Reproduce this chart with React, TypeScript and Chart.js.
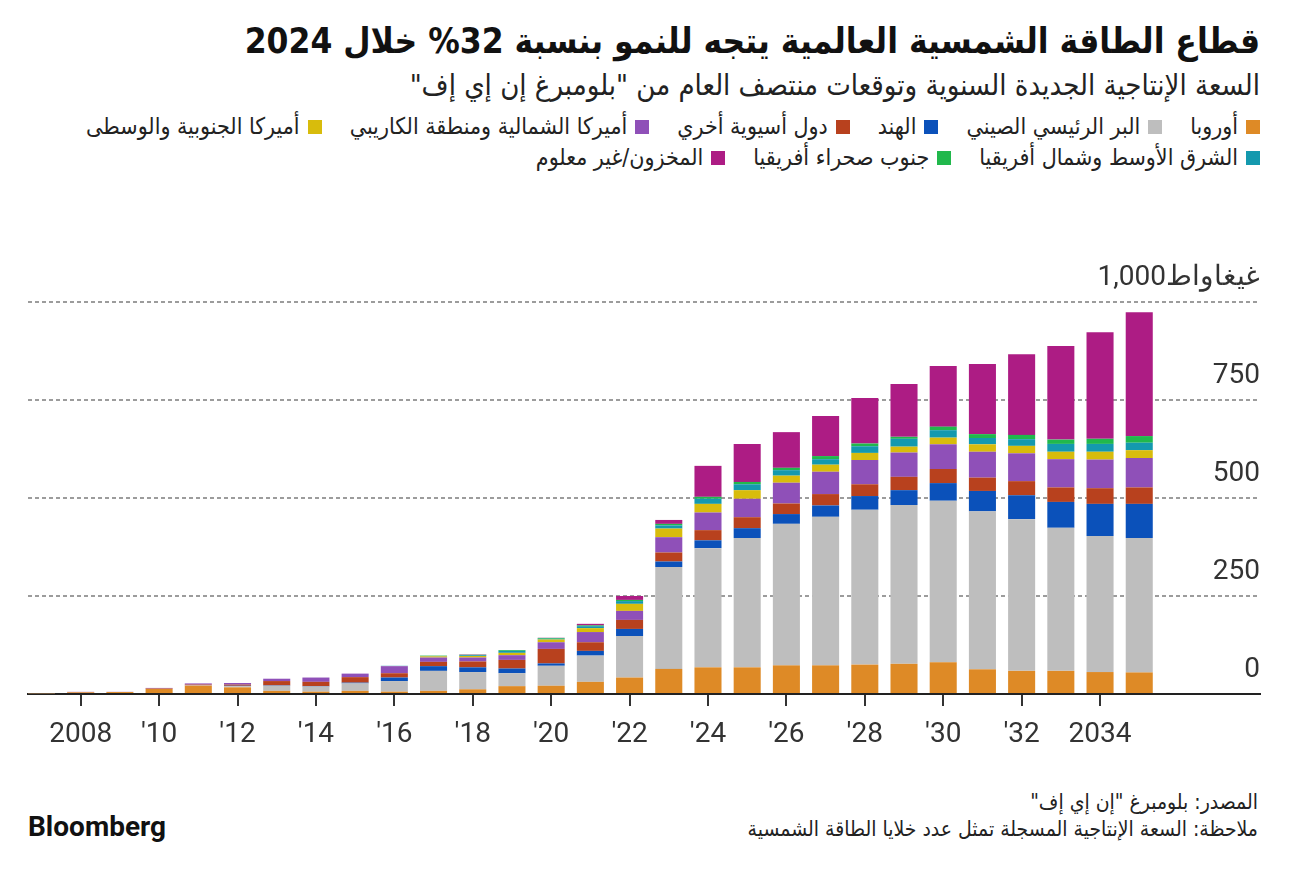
import React, { useEffect, useRef } from "react";
import { Chart, registerables } from "chart.js";

Chart.register(...registerables);

const years = [2007, 2008, 2009, 2010, 2011, 2012, 2013, 2014, 2015, 2016, 2017, 2018, 2019, 2020, 2021, 2022, 2023, 2024, 2025, 2026, 2027, 2028, 2029, 2030, 2031, 2032, 2033, 2034, 2035];

const europe = [1.5, 4, 5, 13, 21, 17, 8, 6, 8, 6, 8, 12, 20, 21, 31, 42, 64, 68, 68, 73, 73, 75, 77, 81, 63, 59, 59, 56, 55];
const china = [0, 0, 0, 0, 1, 3, 13, 13, 19, 27, 51, 44, 33, 51, 67, 106, 260, 304, 330, 361, 379, 395, 405, 412, 403, 387, 365, 347, 343];
const india = [0.8, 0, 0, 0, 0, 1, 1, 1, 2, 9, 12, 12, 12, 6, 12, 18, 14, 20, 25, 25, 29, 35, 38, 45, 52, 61, 66, 82, 87];
const otherAsia = [0, 1, 0, 1, 2, 3, 11, 11, 14, 11, 11, 15, 22, 37, 22, 23, 23, 26, 28, 27, 29, 30, 34, 36, 34, 36, 37, 40, 42];
const northAmerica = [0, 0.5, 0.5, 1.5, 3, 4, 6, 11, 9, 18, 11, 10, 12, 17, 26, 23, 39, 45, 47, 53, 57, 62, 62, 63, 66, 71, 72, 73, 75];
const southAmerica = [0, 0, 0, 0, 0, 0, 0, 0, 0, 0.5, 3, 4, 6, 7, 10, 18, 22, 22, 22, 18, 18, 18, 15, 17, 19, 19, 19, 20, 20];
const mena = [0, 0, 0, 0, 0, 0, 0, 0, 0, 0.5, 1, 2, 5, 2, 5, 7, 8, 13, 15, 14, 14, 17, 20, 19, 16, 17, 20, 20, 19];
const subSaharan = [0, 0, 0, 0, 0, 0, 0, 0, 0, 0, 1, 1, 2, 2, 2, 3, 4, 5, 6, 6, 8, 7, 5, 9, 10, 11, 11, 13, 17];
const stockpile = [0, 0, 0, 0, 0, 0, 0, 0, 0, 0, 0, 1, 0, 0.5, 4, 10, 10, 79, 97, 91, 102, 116, 135, 155, 179, 206, 239, 272, 316];

const seriesNames = [
  "أوروبا",
  "البر الرئيسي الصيني",
  "الهند",
  "دول أسيوية أخري",
  "أميركا الشمالية ومنطقة الكاريبي",
  "أميركا الجنوبية والوسطى",
  "الشرق الأوسط وشمال أفريقيا",
  "جنوب صحراء أفريقيا",
  "المخزون/غير معلوم",
];
const seriesColors = ["#DE8A26", "#BEBEBE", "#0B51BA", "#B8411E", "#8F50B8", "#D8BC0C", "#1499AE", "#21B84C", "#AD1C84"];

const xTickYears = [2008, 2010, 2012, 2014, 2016, 2018, 2020, 2022, 2024, 2026, 2028, 2030, 2032, 2034];
const yTickValues = [0, 250, 500, 750, 1000];
const yUnit = "غيغاواط";

const title = "قطاع الطاقة الشمسية العالمية يتجه للنمو بنسبة 32% خلال 2024";
const subtitle = "السعة الإنتاجية الجديدة السنوية وتوقعات منتصف العام من \"بلومبرغ إن إي إف\"";
const sourceText = "المصدر: بلومبرغ \"إن إي إف\"";
const noteText = "ملاحظة: السعة الإنتاجية المسجلة تمثل عدد خلايا الطاقة الشمسية";

const arabicFont = '"DejaVu Sans Condensed", "DejaVu Sans", sans-serif';
const numFont = 'Roboto, "Liberation Sans", sans-serif';

export default function App() {
  const ref = useRef<HTMLCanvasElement>(null);

  useEffect(() => {
    const canvas = ref.current;
    if (!canvas) return;
    const series = [europe, china, india, otherAsia, northAmerica, southAmerica, mena, subSaharan, stockpile];
    const chart = new Chart(canvas, {
      type: "bar",
      data: {
        datasets: series.map((s, i) => ({
          label: seriesNames[i],
          data: s.map((v, j) => ({ x: years[j], y: v })),
          backgroundColor: seriesColors[i],
          borderWidth: 0,
          categoryPercentage: 0.69,
          barPercentage: 1,
        })),
      },
      options: {
        animation: false,
        responsive: false,
        maintainAspectRatio: false,
        layout: { padding: { left: 28, right: 36, top: 62, bottom: 26 } },
        plugins: { legend: { display: false }, tooltip: { enabled: false } },
        scales: {
          x: {
            type: "linear",
            stacked: true,
            offset: false,
            min: 2006.656,
            max: 2038.08,
            afterBuildTicks: (s: any) => {
              s.ticks = xTickYears.map((v) => ({ value: v }));
            },
            afterFit: (s: any) => {
              s.height = 60;
            },
            grid: { display: true, offset: false, drawOnChartArea: false, drawTicks: true, tickLength: 12, color: "#333", lineWidth: 2 },
            border: { display: true, color: "#222", width: 2 },
            ticks: {
              autoSkip: false,
              maxRotation: 0,
              padding: 12,
              color: "#333",
              font: { family: numFont, size: 28 },
              callback: (v: any) => {
                const n = Number(v);
                if (n === xTickYears[0] || n === xTickYears[xTickYears.length - 1]) return String(n);
                return "'" + String(n).slice(2);
              },
            },
          },
          y: {
            stacked: true,
            position: "right",
            min: 0,
            max: 1000,
            afterBuildTicks: (s: any) => {
              s.ticks = yTickValues.map((v) => ({ value: v }));
            },
            afterFit: (s: any) => {
              s.width = 0;
            },
            grid: {
              drawTicks: false,
              lineWidth: 2,
              color: (c: any) => (c.tick && c.tick.value === 0 ? "rgba(0,0,0,0)" : "#9c9c9c"),
            },
            border: { display: false, dash: [4, 3] },
            ticks: {
              mirror: true,
              padding: 0,
              labelOffset: -24,
              color: "#333",
              font: { family: numFont, size: 28 },
              callback: (v: any) => {
                const n = Number(v);
                const s = n.toLocaleString("en-US");
                return n === 1000 ? yUnit + s : s;
              },
            },
          },
        },
      },
    } as any);
    return () => chart.destroy();
  }, []);

  const legendRow = (from: number, to: number) => (
    <div style={{ display: "flex", flexDirection: "row", justifyContent: "flex-start", gap: 28, alignItems: "center" }}>
      {seriesNames.slice(from, to).map((n, k) => (
        <div key={n} style={{ display: "flex", alignItems: "center", gap: 8 }}>
          <span style={{ width: 14, height: 14, background: seriesColors[from + k], display: "inline-block" }} />
          <span>{n}</span>
        </div>
      ))}
    </div>
  );

  return (
    <div style={{ position: "absolute", left: 0, top: 0, width: 1296, height: 872, background: "#fff", overflow: "hidden", color: "#111" }}>
      <div dir="rtl" style={{ position: "absolute", right: 36, top: 20, fontFamily: arabicFont, fontWeight: 700, fontSize: 35, lineHeight: "42px", whiteSpace: "nowrap" }}>
        {title}
      </div>
      <div dir="rtl" style={{ position: "absolute", right: 36, top: 67, fontFamily: arabicFont, fontSize: 29, lineHeight: "36px", whiteSpace: "nowrap", color: "#222" }}>
        {subtitle}
      </div>
      <div dir="rtl" style={{ position: "absolute", right: 36, top: 111, fontFamily: arabicFont, fontSize: 23, lineHeight: "31px", whiteSpace: "nowrap", color: "#222" }}>
        {legendRow(0, 6)}
        {legendRow(6, 9)}
      </div>
      <canvas ref={ref} width={1296} height={540} style={{ position: "absolute", left: 0, top: 240, width: 1296, height: 540 }} />
      <div style={{ position: "absolute", left: 28, top: 811, fontFamily: numFont, fontWeight: 700, fontSize: 28, lineHeight: "32px" }}>
        Bloomberg
      </div>
      <div dir="rtl" style={{ position: "absolute", right: 38, top: 789, fontFamily: arabicFont, fontSize: 21, lineHeight: "27px", whiteSpace: "nowrap", color: "#222" }}>
        <div>{sourceText}</div>
        <div>{noteText}</div>
      </div>
    </div>
  );
}
